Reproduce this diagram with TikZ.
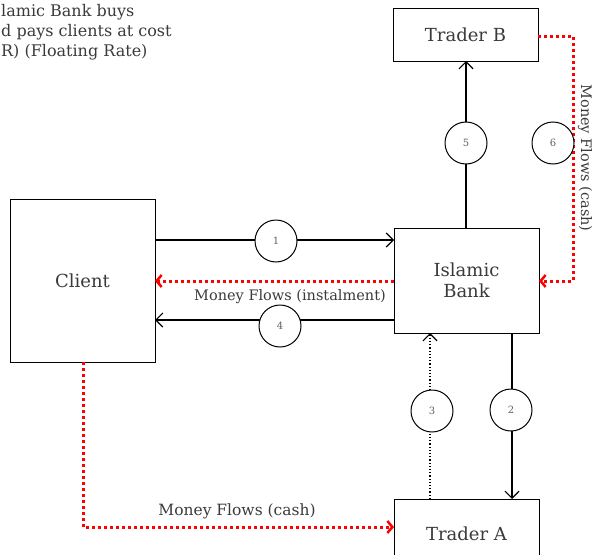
\documentclass[tikz,border=0pt]{standalone}
\usepackage{fontspec}
\setmainfont{DejaVu Serif}
\usetikzlibrary{arrows.meta}
\definecolor{txt}{HTML}{3A3A3A}
\definecolor{mred}{HTML}{FF0000}
\begin{document}
\begin{tikzpicture}[x=1pt,y=-1pt,
  box/.style={draw,line width=1pt,inner sep=0pt,font=\fontsize{18}{21}\selectfont,text=txt,align=center},
  num/.style={draw,circle,line width=1pt,minimum size=42pt,inner sep=0pt,fill=white,font=\fontsize{10}{10}\selectfont,text=txt!80},
  flow/.style={line width=1.2pt,-{Straight Barb[length=7pt,width=14pt,line width=1.2pt]}},
  money/.style={mred,line width=3pt,dash pattern=on 3pt off 3pt,-{Straight Barb[length=5pt,width=12pt,line width=2.5pt]}},
  lab/.style={text=txt,inner sep=1pt}]
\useasboundingbox (0,0) rectangle (594,554);
% boxes
\node[box,minimum width=145pt,minimum height=163pt] (client) at (82.5,280.5) {Client};
\node[box,minimum width=145pt,minimum height=105pt] (bank) at (466.5,280.5) {Islamic\\Bank};
\node[box,minimum width=145pt,minimum height=53pt] (tb) at (465.5,34.5) {Trader B};
\node[box,minimum width=145pt,minimum height=70pt] (ta) at (466.5,534) {Trader A};
% top-left text
\node[anchor=north west,align=left,inner sep=0pt,font=\fontsize{16}{20}\selectfont,text=txt] (note) at (1,4.5)
  {lamic Bank buys\\d pays clients at cost\\R) (Floating Rate)};
% coordinates
\coordinate (c1s) at (155,240); \coordinate (c1e) at (394,240);
\coordinate (r1s) at (394,281); \coordinate (r1e) at (155,281);
\coordinate (c4s) at (394,320); \coordinate (c4e) at (155,320);
\coordinate (b5s) at (466,228); \coordinate (b5e) at (466,61);
\coordinate (b2s) at (512,333); \coordinate (b2e) at (512,499);
\coordinate (a3s) at (430,499); \coordinate (a3e) at (430,333);
\coordinate (tbr) at (538,36); \coordinate (tbc) at (573,36); \coordinate (bkc) at (573,281); \coordinate (bkr) at (539,281);
\coordinate (clb) at (83,362); \coordinate (clc) at (83,527); \coordinate (tal) at (394,527);
% connectors
\draw[flow] (c1s) -- (c1e);
\draw[flow] (c4s) -- (c4e);
\draw[flow] (b5s) -- (b5e);
\draw[flow] (b2s) -- (b2e);
\draw[flow,dotted] (a3s) -- (a3e);
\draw[money] (r1s) -- (r1e);
\draw[money] (tbr) -- (tbc) -- (bkc) -- (bkr);
\draw[money] (clb) -- (clc) -- (tal);
% circles
\node[num] (n1) at (276,241) {1};
\node[num] (n4) at (280,326) {4};
\node[num] (n5) at (466,143) {5};
\node[num] (n6) at (553,143) {6};
\node[num] (n2) at (511,410) {2};
\node[num] (n3) at (432,411) {3};
% labels
\node[lab,font=\fontsize{14.5}{16}\selectfont] (l1) at (290,297) {Money Flows (instalment)};
\node[lab,rotate=-90,font=\fontsize{14.5}{16}\selectfont] (l2) at (585,158) {Money Flows (cash)};
\node[lab,font=\fontsize{15.5}{16}\selectfont] (l3) at (237,511) {Money Flows (cash)};
\end{tikzpicture}
\end{document}
